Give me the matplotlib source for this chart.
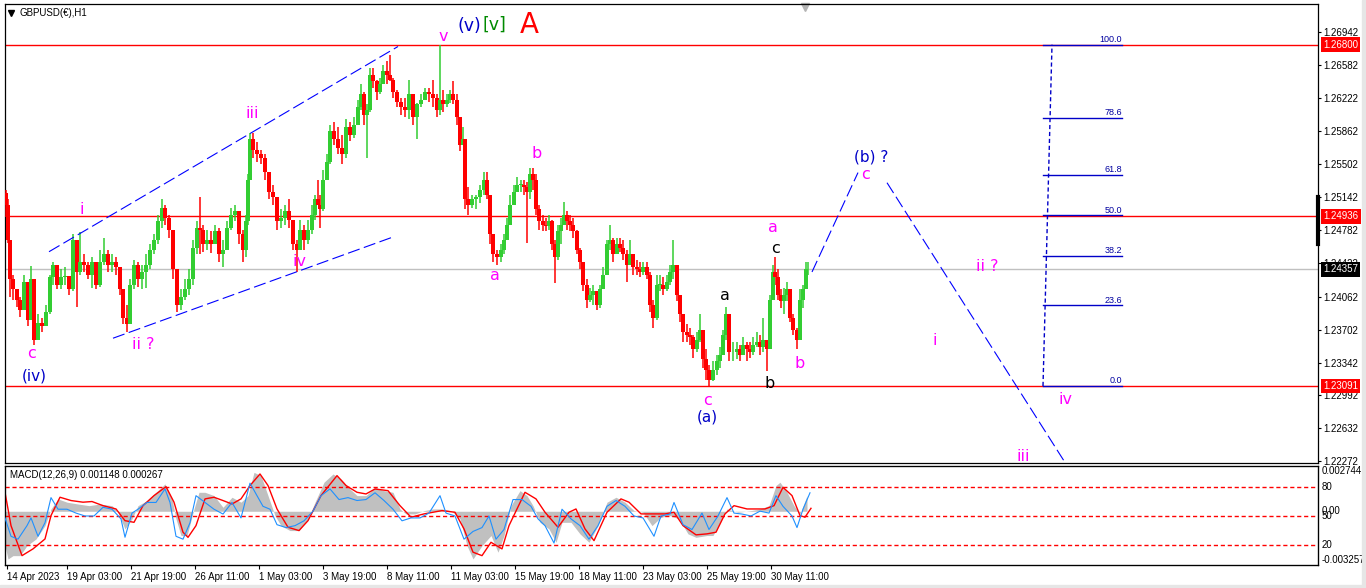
import matplotlib
matplotlib.use("Agg")
import matplotlib.pyplot as plt
import matplotlib.transforms as mtrans
from matplotlib.patches import Rectangle
import numpy as np

plt.rcParams["font.family"] = ["DejaVu Sans"]
AX_FONT = ["Liberation Sans", "DejaVu Sans"]

# H1 candles (bar number counted from the left edge)
bar_idx = [1, 3, 5, 8, 12, 15, 19, 23, 26, 29, 33, 37, 41, 45, 48, 52, 56, 60, 64, 68,
           72, 75, 79, 83, 87, 91, 95, 99, 103, 107, 111, 115, 118, 122, 125, 129, 133, 137, 141, 145,
           149, 153, 157, 160, 164, 168, 172, 176, 180, 184, 188, 192, 195, 198, 202, 206, 210, 214, 218, 222,
           226, 230, 234, 238, 241, 243, 245, 248, 252, 256, 260, 264, 268, 272, 276, 280, 284, 288, 292, 295,
           299, 303, 307, 310, 313, 315, 318, 322, 325, 329, 333, 337, 341, 345, 349, 353, 356, 359, 362, 365,
           368, 372, 375, 378, 382, 385, 388, 392, 396, 400, 404, 408, 412, 416, 420, 424, 428, 432, 435, 438,
           442, 445, 448, 452, 455, 458, 460, 463, 467, 471, 475, 479, 482, 485, 488, 492, 496, 499, 502, 505,
           509, 512, 516, 519, 522, 525, 528, 531, 534, 538, 541, 544, 547, 550, 553, 556, 559, 562, 565, 568,
           572, 575, 578, 582, 585, 588, 592, 595, 598, 602, 605, 608, 612, 615, 618, 622, 625, 628, 632, 635,
           638, 642, 645, 648, 652, 655, 658, 662, 665, 668, 672, 675, 678, 682, 685, 688, 692, 695, 698, 701,
           704, 708, 712, 715, 718, 721, 724, 728, 732, 735, 738, 742, 745, 748, 752, 755, 758, 762, 765, 768,
           770, 773, 776, 779, 782, 785, 788, 792, 795, 798, 801, 803]
bar_high = [1.2522, 1.2512, 1.2443, 1.2430, 1.2414, 1.2406, 1.2430, 1.2419, 1.2439, 1.2414,
            1.2387, 1.2383, 1.2397, 1.2430, 1.2444, 1.2441, 1.2436, 1.2438, 1.2425, 1.2474,
            1.2463, 1.2476, 1.2452, 1.2444, 1.2449, 1.2444, 1.2457, 1.2470, 1.2457, 1.2452,
            1.2449, 1.2438, 1.2408, 1.2397, 1.2425, 1.2446, 1.2444, 1.2441, 1.2452, 1.2463,
            1.2474, 1.2495, 1.2512, 1.2506, 1.2495, 1.2474, 1.2436, 1.2414, 1.2425, 1.2436,
            1.2468, 1.2488, 1.2515, 1.2484, 1.2479, 1.2477, 1.2484, 1.2481, 1.2468, 1.2488,
            1.2503, 1.2506, 1.2495, 1.2479, 1.2495, 1.2539, 1.2584, 1.2584, 1.2574, 1.2566,
            1.2561, 1.2539, 1.2528, 1.2506, 1.2501, 1.2506, 1.2512, 1.2488, 1.2468, 1.2490,
            1.2484, 1.2490, 1.2506, 1.2517, 1.2533, 1.2517, 1.2544, 1.2561, 1.2593, 1.2596,
            1.2590, 1.2582, 1.2599, 1.2596, 1.2601, 1.2620, 1.2637, 1.2629, 1.2615, 1.2655,
            1.2655, 1.2642, 1.2644, 1.2658, 1.2662, 1.2669, 1.2644, 1.2631, 1.2622, 1.2622,
            1.2642, 1.2626, 1.2617, 1.2626, 1.2633, 1.2633, 1.2642, 1.2626, 1.2680, 1.2631,
            1.2626, 1.2631, 1.2640, 1.2626, 1.2593, 1.2590, 1.2577, 1.2525, 1.2517, 1.2517,
            1.2528, 1.2542, 1.2542, 1.2517, 1.2468, 1.2457, 1.2463, 1.2474, 1.2492, 1.2517,
            1.2528, 1.2536, 1.2533, 1.2533, 1.2531, 1.2546, 1.2546, 1.2539, 1.2506, 1.2495,
            1.2492, 1.2495, 1.2490, 1.2468, 1.2484, 1.2492, 1.2509, 1.2499, 1.2495, 1.2492,
            1.2479, 1.2459, 1.2444, 1.2425, 1.2416, 1.2419, 1.2412, 1.2419, 1.2438, 1.2468,
            1.2484, 1.2470, 1.2470, 1.2470, 1.2468, 1.2457, 1.2468, 1.2452, 1.2446, 1.2444,
            1.2444, 1.2444, 1.2433, 1.2403, 1.2430, 1.2430, 1.2427, 1.2430, 1.2441, 1.2468,
            1.2436, 1.2408, 1.2387, 1.2376, 1.2372, 1.2365, 1.2368, 1.2387, 1.2370, 1.2349,
            1.2332, 1.2336, 1.2343, 1.2351, 1.2370, 1.2395, 1.2381, 1.2357, 1.2357, 1.2354,
            1.2362, 1.2357, 1.2357, 1.2362, 1.2368, 1.2365, 1.2383, 1.2359, 1.2408, 1.2441,
            1.2449, 1.2436, 1.2414, 1.2416, 1.2422, 1.2403, 1.2387, 1.2372, 1.2414, 1.2419,
            1.2444, 1.2444]
bar_low = [1.2493, 1.2465, 1.2406, 1.2403, 1.2395, 1.2384, 1.2403, 1.2374, 1.2381, 1.2354,
           1.2365, 1.2368, 1.2376, 1.2387, 1.2419, 1.2414, 1.2414, 1.2419, 1.2408, 1.2412,
           1.2395, 1.2430, 1.2433, 1.2425, 1.2416, 1.2414, 1.2417, 1.2441, 1.2433, 1.2433,
           1.2430, 1.2408, 1.2376, 1.2368, 1.2376, 1.2414, 1.2417, 1.2414, 1.2416, 1.2436,
           1.2452, 1.2463, 1.2481, 1.2484, 1.2470, 1.2425, 1.2389, 1.2392, 1.2403, 1.2408,
           1.2419, 1.2452, 1.2452, 1.2455, 1.2457, 1.2454, 1.2463, 1.2444, 1.2438, 1.2457,
           1.2479, 1.2488, 1.2463, 1.2444, 1.2449, 1.2484, 1.2533, 1.2557, 1.2553, 1.2550,
           1.2533, 1.2512, 1.2506, 1.2479, 1.2481, 1.2484, 1.2481, 1.2457, 1.2433, 1.2459,
           1.2457, 1.2463, 1.2474, 1.2490, 1.2506, 1.2481, 1.2499, 1.2533, 1.2550, 1.2571,
           1.2561, 1.2550, 1.2557, 1.2575, 1.2579, 1.2593, 1.2609, 1.2593, 1.2557, 1.2607,
           1.2633, 1.2620, 1.2626, 1.2637, 1.2637, 1.2640, 1.2622, 1.2612, 1.2604, 1.2601,
           1.2599, 1.2593, 1.2577, 1.2612, 1.2620, 1.2618, 1.2612, 1.2601, 1.2604, 1.2607,
           1.2612, 1.2617, 1.2615, 1.2593, 1.2564, 1.2571, 1.2501, 1.2495, 1.2503, 1.2501,
           1.2508, 1.2517, 1.2512, 1.2463, 1.2444, 1.2441, 1.2444, 1.2452, 1.2468, 1.2484,
           1.2506, 1.2520, 1.2520, 1.2517, 1.2465, 1.2512, 1.2522, 1.2495, 1.2479, 1.2477,
           1.2477, 1.2479, 1.2457, 1.2421, 1.2446, 1.2463, 1.2488, 1.2479, 1.2477, 1.2470,
           1.2452, 1.2436, 1.2412, 1.2394, 1.2400, 1.2397, 1.2392, 1.2394, 1.2414, 1.2430,
           1.2457, 1.2444, 1.2452, 1.2455, 1.2446, 1.2422, 1.2441, 1.2430, 1.2430, 1.2427,
           1.2430, 1.2425, 1.2390, 1.2372, 1.2381, 1.2412, 1.2408, 1.2412, 1.2419, 1.2425,
           1.2401, 1.2379, 1.2357, 1.2357, 1.2354, 1.2340, 1.2346, 1.2357, 1.2329, 1.2316,
           1.2309, 1.2314, 1.2321, 1.2329, 1.2343, 1.2359, 1.2336, 1.2336, 1.2338, 1.2336,
           1.2343, 1.2336, 1.2340, 1.2343, 1.2351, 1.2343, 1.2346, 1.2325, 1.2370, 1.2412,
           1.2419, 1.2403, 1.2394, 1.2387, 1.2401, 1.2379, 1.2365, 1.2349, 1.2370, 1.2394,
           1.2414, 1.2430]
bar_close = [1.2506, 1.2468, 1.2425, 1.2414, 1.2403, 1.2392, 1.2422, 1.2381, 1.2425, 1.2359,
             1.2378, 1.2374, 1.2389, 1.2427, 1.2441, 1.2419, 1.2428, 1.2429, 1.2414, 1.2468,
             1.2433, 1.2444, 1.2441, 1.2430, 1.2444, 1.2419, 1.2444, 1.2452, 1.2441, 1.2444,
             1.2438, 1.2414, 1.2383, 1.2376, 1.2419, 1.2441, 1.2425, 1.2433, 1.2441, 1.2457,
             1.2468, 1.2488, 1.2503, 1.2492, 1.2479, 1.2436, 1.2397, 1.2406, 1.2414, 1.2425,
             1.2459, 1.2481, 1.2479, 1.2463, 1.2468, 1.2463, 1.2477, 1.2452, 1.2457, 1.2481,
             1.2495, 1.2499, 1.2474, 1.2457, 1.2488, 1.2533, 1.2577, 1.2566, 1.2561, 1.2557,
             1.2542, 1.2520, 1.2514, 1.2488, 1.2492, 1.2499, 1.2490, 1.2463, 1.2457, 1.2479,
             1.2468, 1.2479, 1.2495, 1.2512, 1.2506, 1.2501, 1.2533, 1.2553, 1.2586, 1.2577,
             1.2568, 1.2561, 1.2590, 1.2582, 1.2593, 1.2612, 1.2626, 1.2604, 1.2609, 1.2647,
             1.2640, 1.2629, 1.2637, 1.2651, 1.2647, 1.2642, 1.2629, 1.2618, 1.2612, 1.2609,
             1.2626, 1.2601, 1.2615, 1.2620, 1.2629, 1.2626, 1.2622, 1.2609, 1.2620, 1.2615,
             1.2620, 1.2626, 1.2620, 1.2601, 1.2571, 1.2577, 1.2512, 1.2506, 1.2512, 1.2514,
             1.2522, 1.2533, 1.2517, 1.2474, 1.2452, 1.2449, 1.2457, 1.2468, 1.2484, 1.2506,
             1.2520, 1.2528, 1.2528, 1.2525, 1.2520, 1.2539, 1.2533, 1.2501, 1.2488, 1.2484,
             1.2483, 1.2488, 1.2463, 1.2449, 1.2477, 1.2484, 1.2495, 1.2488, 1.2484, 1.2477,
             1.2457, 1.2444, 1.2419, 1.2403, 1.2408, 1.2412, 1.2397, 1.2414, 1.2430, 1.2463,
             1.2468, 1.2452, 1.2463, 1.2459, 1.2452, 1.2441, 1.2452, 1.2438, 1.2436, 1.2433,
             1.2438, 1.2430, 1.2397, 1.2383, 1.2419, 1.2419, 1.2414, 1.2422, 1.2433, 1.2441,
             1.2408, 1.2387, 1.2368, 1.2365, 1.2362, 1.2349, 1.2359, 1.2370, 1.2338, 1.2327,
             1.2316, 1.2327, 1.2336, 1.2343, 1.2365, 1.2387, 1.2346, 1.2346, 1.2349, 1.2343,
             1.2354, 1.2349, 1.2346, 1.2354, 1.2357, 1.2351, 1.2359, 1.2349, 1.2403, 1.2433,
             1.2427, 1.2408, 1.2401, 1.2408, 1.2414, 1.2383, 1.2370, 1.2359, 1.2403, 1.2414,
             1.2436, 1.2436]
first_open = 1.2519

# right price scale
price_ticks = [1.22272, 1.22632, 1.22992, 1.23342, 1.23702, 1.24062, 1.24422,
               1.24782, 1.25142, 1.25502, 1.25862, 1.26222, 1.26582, 1.26942]
red_levels = [1.26800, 1.24936, 1.23091]
bid_price = 1.24357

# date axis
date_ticks = [2, 62, 126, 190, 254, 318, 382, 446, 510, 574, 638, 702, 766]
date_labels = ["14 Apr 2023", "19 Apr 03:00", "21 Apr 19:00", "26 Apr 11:00", "1 May 03:00",
               "3 May 19:00", "8 May 11:00", "11 May 03:00", "15 May 19:00", "18 May 11:00",
               "23 May 03:00", "25 May 19:00", "30 May 11:00"]

# trend lines: channel and projected path
chan_up_x, chan_up_y = [44, 393], [1.2455, 1.2678]
chan_lo_x, chan_lo_y = [108, 388], [1.2361, 1.2471]
proj_up_x, proj_up_y = [807, 853], [1.2433, 1.2541]
proj_dn_x, proj_dn_y = [882, 1060], [1.2530, 1.2226]

# fibonacci retracement
fib_low, fib_high = 1.23091, 1.26800
fib_levels = [0.0, 23.6, 38.2, 50.0, 61.8, 78.6, 100.0]
fib_x0, fib_x1 = 1038, 1117
fib_diag_x = [1038, 1047]

# wave labels
wave_text = ["(v)", "[v]", "A", "v", "iii", "i", "iv", "ii ?", "c", "(iv)", "a", "b", "a", "c",
             "a", "b", "b", "c", "(a)", "(b) ?", "c", "ii ?", "i", "iv", "iii"]
wave_x = [464, 489, 524, 438, 247, 77, 295, 138, 27, 29, 490, 532, 768, 770,
          720, 765, 795, 702, 702, 866, 861, 982, 930, 1060, 1018]
wave_y = [1.2700, 1.2702, 1.2701, 1.2689, 1.2605, 1.2501, 1.2444, 1.2354, 1.2344, 1.2320,
          1.2429, 1.2562, 1.2481, 1.2459, 1.2407, 1.2312, 1.2333, 1.2293, 1.2275, 1.2558,
          1.2539, 1.2439, 1.2359, 1.2294, 1.2232]
wave_kind = ["navy", "green", "red", "m", "m", "m", "m", "m", "m", "navy", "m", "m", "m", "k",
             "k", "k", "m", "m", "navy", "navy", "m", "m", "m", "m", "m"]

# MACD(12,26,9) histogram and signal, plus the 0-100 oscillator drawn over it
macd_x = [0, 3, 8, 15, 22, 31, 40, 46, 53, 62, 73, 84, 95, 107, 113, 120, 127, 133, 142, 151,
          160, 167, 171, 176, 182, 189, 194, 200, 209, 218, 227, 236, 243, 249, 256, 263, 270, 276, 285, 294,
          303, 310, 319, 328, 336, 345, 352, 361, 370, 379, 388, 395, 401, 410, 419, 428, 437, 446, 455, 462,
          468, 477, 486, 493, 499, 506, 515, 522, 528, 535, 544, 551, 557, 566, 575, 584, 593, 602, 611, 620,
          629, 638, 647, 656, 665, 674, 683, 691, 702, 708, 715, 722, 733, 746, 755, 764, 771, 775, 782, 789,
          795, 802]
macd_main = [-0.00208, -0.00289, -0.00269, -0.00269, -0.00208, -0.00168, -0.00087, 0.00014, 0.00075, 0.00055,
             0.00044, 0.00034, 0.00044, 0.00034, -0.00006, -0.00107, -0.00046, 0.00034, 0.00065, 0.00115,
             0.00166, 0.00075, -0.00046, -0.00147, -0.00147, 0.00014, 0.00115, 0.00115, 0.00095, 0.00024,
             0.00085, 0.00055, 0.00095, 0.00236, 0.00216, 0.00095, -0.00026, -0.00087, -0.00117, -0.00117,
             -0.00046, 0.00055, 0.00176, 0.00226, 0.00196, 0.00135, 0.00095, 0.00095, 0.00145, 0.00125,
             0.00115, 0.00014, -0.00016, -0.00016, 0.00004, 0.00014, 0.00014, 0.00004, -0.00046, -0.00208,
             -0.00289, -0.00208, -0.00147, -0.00248, -0.00147, 0.00034, 0.00125, 0.00095, 0.00034, -0.00067,
             -0.00107, -0.00188, -0.00067, -0.00067, -0.00137, -0.00188, -0.00087, 0.00055, 0.00085, 0.00055,
             0.00004, -0.00006, -0.00087, -0.00036, -0.00026, -0.00046, -0.00137, -0.00158, -0.00147, -0.00147,
             -0.00067, 0.00014, -0.00006, 0.00004, 0.00014, 0.00034, 0.00156, 0.00176, 0.00115, 0.00034,
             -0.00016, 0.00095]
sig_x = [0, 6, 17, 28, 40, 46, 55, 66, 78, 87, 98, 111, 120, 129, 138, 149, 161, 169, 178, 183,
         191, 200, 209, 218, 227, 236, 245, 255, 263, 272, 283, 294, 303, 316, 332, 341, 352, 361, 370, 383,
         395, 406, 419, 437, 450, 459, 468, 477, 486, 497, 504, 520, 531, 540, 553, 564, 571, 580, 589, 602,
         616, 624, 636, 647, 660, 669, 678, 691, 702, 711, 720, 729, 742, 760, 769, 778, 787, 795, 800, 806]
macd_signal = [0.00115, -0.00087, -0.00269, -0.00228, -0.00168, -0.00026, 0.00085, 0.00065, 0.00055, 0.00059,
               0.00034, 0.00014, -0.00057, -0.00067, 0.00034, 0.00095, 0.00149, 0.00055, -0.00127, -0.00158,
               -0.00087, 0.00075, 0.00085, 0.00065, 0.00044, 0.00075, 0.00156, 0.00226, 0.00156, 0.00014,
               -0.00097, -0.00117, -0.00057, 0.00095, 0.00216, 0.00156, 0.00115, 0.00105, 0.00135, 0.00125,
               0.00034, -0.00036, -0.00016, 0.00004, -0.00006, -0.00107, -0.00248, -0.00269, -0.00188, -0.00228,
               -0.00087, 0.00115, 0.00075, -0.00006, -0.00097, -0.00006, 0.00014, -0.00107, -0.00178, -0.00006,
               0.00075, 0.00055, -0.00016, -0.00016, -0.00016, -0.00006, -0.00087, -0.00143, -0.00137, -0.00127,
               -0.00016, 0.00034, 0.00014, 0.00014, 0.00034, 0.00145, 0.00095, -0.00026, -0.00036, 0.00018]
osc_x = [0, 6, 13, 22, 26, 33, 40, 46, 53, 62, 71, 80, 89, 98, 107, 116, 120, 127, 133, 142,
         151, 160, 165, 171, 178, 185, 191, 200, 209, 218, 227, 236, 245, 252, 258, 265, 272, 281, 290, 299,
         308, 316, 325, 334, 343, 352, 361, 370, 379, 388, 397, 406, 415, 424, 435, 441, 450, 459, 468, 477,
         484, 491, 499, 508, 517, 526, 533, 540, 549, 557, 566, 575, 584, 593, 602, 611, 620, 629, 638, 649,
         656, 665, 669, 678, 687, 697, 704, 713, 722, 729, 737, 746, 755, 764, 771, 778, 787, 792, 798, 805]
osc_vals = [48, 29, 26, 40, 48, 29, 43, 69, 57, 57, 53, 50, 50, 59, 57, 47, 28, 53, 57, 64,
            64, 78, 64, 29, 26, 43, 71, 64, 57, 52, 64, 48, 84, 71, 60, 57, 41, 38, 40, 45,
            55, 71, 78, 67, 69, 66, 67, 74, 66, 57, 45, 48, 48, 53, 71, 53, 50, 26, 34, 38,
            50, 26, 36, 67, 67, 60, 47, 40, 22, 57, 47, 40, 26, 40, 60, 66, 60, 50, 48, 29,
            50, 52, 64, 41, 36, 53, 36, 50, 69, 53, 52, 50, 55, 53, 71, 60, 50, 38, 57, 74]
osc_levels = [20, 50, 80]
macd_min, macd_max = -0.003257, 0.002744

GREEN = "#32cd32"
RED = "#ff0000"
MAG = "#ff00ff"
NAVY = "#0000c8"
BLUE = "#0000ff"
colors = {"m": MAG, "k": "black", "navy": NAVY, "green": "#008a00", "red": RED}

W, H = 1366.0, 588.0
fig = plt.figure(figsize=(W / 100, H / 100), dpi=100)
fig.patch.set_facecolor("white")
ax = fig.add_axes([5 / W, (H - 463) / H, 1313 / W, 459 / H])
axm = fig.add_axes([5 / W, (H - 565) / H, 1313 / W, 99 / H])
axm.patch.set_alpha(0)

# window edge
fig.patches.append(Rectangle((1362 / W, 0), 4 / W, 1, transform=fig.transFigure,
                             color="#e6e6e6", zorder=0))
fig.patches.append(Rectangle((0, 0), 1, 3 / H, transform=fig.transFigure,
                             color="#e6e6e6", zorder=0))

for a in (ax, axm):
    a.set_xlim(0, 1313)
    for s in a.spines.values():
        s.set_linewidth(0.9)
        s.set_color("black")

ax.set_ylim(1.22254, 1.27242)

# price candles
o = np.array([first_open] + bar_close[:-1])
c = np.array(bar_close)
cols = np.where(c >= o, GREEN, RED)
ax.vlines(bar_idx, bar_low, bar_high, colors=cols, lw=1.1, zorder=3)
ax.bar(bar_idx, np.maximum(np.abs(c - o), 0.00005), bottom=np.minimum(o, c),
       width=3.2, color=cols, lw=0, zorder=3)

for lv in red_levels:
    ax.axhline(lv, color=RED, lw=1, zorder=2)
ax.axhline(bid_price, color="#c0c0c0", lw=1, zorder=1)

dash = (0, (11, 4))
ax.plot(chan_up_x, chan_up_y, color=BLUE, lw=0.8, ls=dash, zorder=4)
ax.plot(chan_lo_x, chan_lo_y, color=BLUE, lw=0.8, ls=dash, zorder=4)
ax.plot(proj_up_x, proj_up_y, color=BLUE, lw=0.8, ls=dash, zorder=4)
ax.plot(proj_dn_x, proj_dn_y, color=BLUE, lw=0.8, ls=dash, zorder=4, clip_on=False)

# fibonacci
for lv in fib_levels:
    p = fib_low + lv / 100.0 * (fib_high - fib_low)
    ax.plot([fib_x0, fib_x1], [p, p], color=NAVY, lw=1, zorder=4)
    ax.text(fib_x1, p + 0.00008, "%.1f" % lv, ha="right", va="bottom", fontsize=6.5,
            family=AX_FONT, color="#0000a0", zorder=5)
ax.plot(fib_diag_x, [fib_low, fib_high], color=NAVY, lw=1, ls=(0, (3, 2)), zorder=4)

# wave labels
for t, x, y, k in zip(wave_text, wave_x, wave_y, wave_kind):
    size = 11.5
    if t == "A":
        size = 20
    elif t in ("(v)", "[v]"):
        size = 12.5
    elif k == "navy":
        size = 11
    ax.text(x, y, t, color=colors[k], fontsize=size, ha="center", va="center",
            zorder=6, clip_on=False)

ax.text(15 / 1313, 1 - 9 / 459, "GBPUSD(\u20ac),H1", transform=ax.transAxes, fontsize=7,
        family=AX_FONT, va="center", ha="left")
ax.plot([6 / 1313], [1 - 9 / 459], marker="v", color="black", ms=4, transform=ax.transAxes)
ax.plot([800 / 1313], [1 - 3 / 459], marker="v", color="#b4b4b4", ms=6,
        transform=ax.transAxes, clip_on=False)

# right price axis
ax.set_xticks([])
ax.yaxis.tick_right()
ax.set_yticks(price_ticks)
ax.set_yticklabels(["%.5f" % v for v in price_ticks], fontsize=7, family=AX_FONT)
ax.tick_params(axis="y", direction="out", length=2.5, width=0.8, pad=1.5)

trans = mtrans.blended_transform_factory(ax.transAxes, ax.transData)
for lv, fc in [(1.26800, RED), (1.24936, RED), (1.23091, RED), (bid_price, "black")]:
    ax.text(1 + 5 / 1313, lv, "%.5f" % lv, transform=trans, ha="left", va="center",
            fontsize=7, family=AX_FONT, color="white", zorder=10, clip_on=False,
            bbox=dict(boxstyle="square,pad=0.25", fc=fc, ec="none"))
ax.plot([1, 1], [1.2463, 1.2515], transform=trans, color="black", lw=3, clip_on=False)

# MACD window
axm.set_ylim(macd_min, macd_max)
axm.fill_between(macd_x, 0, macd_main, color="#c0c0c0", lw=0, zorder=1)
axm.plot(sig_x, macd_signal, color=RED, lw=1, zorder=3)
axm.set_yticks([])
axo = axm.twinx()
axo.set_ylim(-0.7, 101.7)
axo.set_yticks([])
for lv in osc_levels:
    axo.axhline(lv, color=RED, lw=1, ls=(0, (3, 2)), zorder=2)
axo.plot(osc_x, osc_vals, color="#1e90ff", lw=0.8, zorder=4)

axm.set_xticks(date_ticks)
axm.set_xticklabels(date_labels, fontsize=7, family=AX_FONT, ha="left")
axm.tick_params(axis="x", direction="out", length=3, width=0.8, pad=2)

axm.text(5 / 1313, 1 - 9 / 99, "MACD(12,26,9) 0.001148 0.000267", transform=axm.transAxes,
         fontsize=7, family=AX_FONT, va="center", ha="left")
mt = mtrans.blended_transform_factory(axm.transAxes, axm.transData)
ot = mtrans.blended_transform_factory(axm.transAxes, axo.transData)
xr = 1 + 4 / 1313
axm.text(xr, macd_max, "%.6f" % macd_max, transform=mt, ha="left", va="top",
         fontsize=7, family=AX_FONT, clip_on=False)
axm.text(xr, macd_min, "%.6f" % macd_min, transform=mt, ha="left", va="bottom",
         fontsize=7, family=AX_FONT, clip_on=False)
axm.text(xr, 0, "0.00", transform=mt, ha="left", va="center", fontsize=7,
         family=AX_FONT, clip_on=False)
for lv in osc_levels:
    axo.text(xr, lv, str(lv), transform=ot, ha="left", va="center", fontsize=7,
             family=AX_FONT, clip_on=False)

fig.savefig("out.png", dpi=100)
